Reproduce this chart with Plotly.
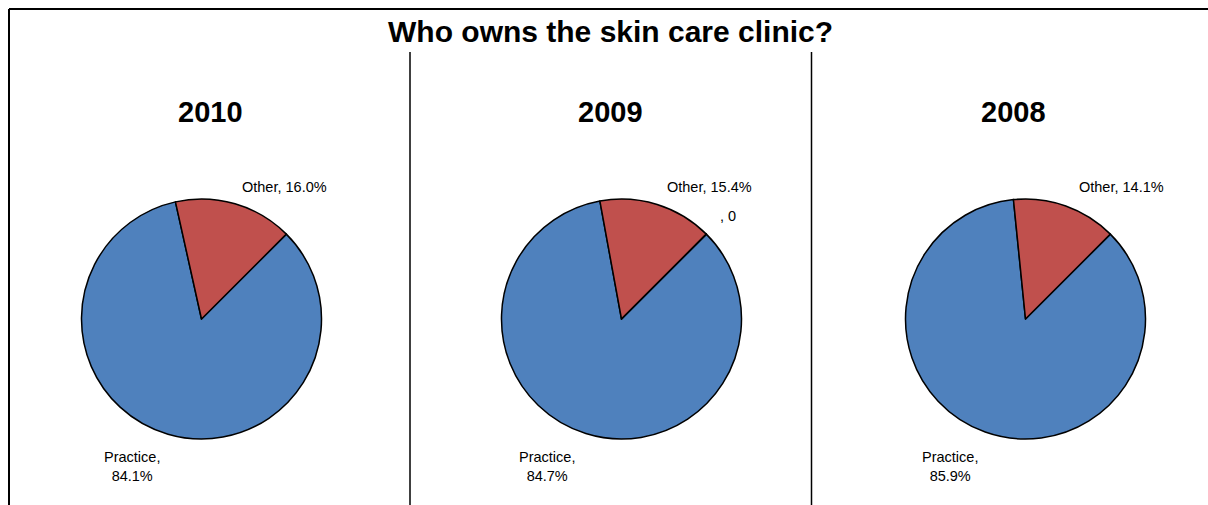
import plotly.graph_objects as go

W, H = 1208, 505

title_text = "Who owns the skin care clinic?"
years = ["2010", "2009", "2008"]
slice_names = ["Practice", "Other", ""]
practice = [84.1, 84.7, 85.9]
other = [16.0, 15.4, 14.1]
blank = [None, 0, None]   # 2009 has an extra empty (zero) category

colors = ["#4F81BD", "#C0504D", "#9BBB59"]
FONT = "Arial, 'Liberation Sans', sans-serif"

# layout (pixel) positions
pie_cx = [201.5, 621.5, 1025.5]
pie_cy = 319
pie_r = 120
year_x = [210, 610, 1013]
year_y = 112.5
other_lbl = [(284, 187), (709, 186.5), (1121.5, 187.3)]
prac_lbl = [(132, 466.5), (547, 466.5), (950, 466.5)]
zero_lbl = (727.5, 216.5)


def px(x):
    return x / W


def py(y):
    return 1 - y / H


fig = go.Figure()
annotations = []
for i, yr in enumerate(years):
    vals = [practice[i], other[i]]
    names = slice_names[:2]
    if blank[i] is not None:
        vals.append(blank[i])
        names = slice_names[:3]
    fig.add_trace(go.Pie(
        values=vals,
        labels=names,
        sort=False,
        direction="clockwise",
        rotation=45,
        textinfo="none",
        hoverinfo="label+percent",
        marker=dict(colors=colors[:len(vals)], line=dict(color="black", width=1.5)),
        domain=dict(x=[px(pie_cx[i] - pie_r), px(pie_cx[i] + pie_r)],
                    y=[py(pie_cy + pie_r), py(pie_cy - pie_r)]),
        showlegend=False,
    ))
    annotations.append(dict(text=f"<b>{yr}</b>", x=px(year_x[i]), y=py(year_y),
                            font=dict(size=29, family=FONT, color="black")))
    annotations.append(dict(text=f"{slice_names[1]}, {other[i]:.1f}%",
                            x=px(other_lbl[i][0]), y=py(other_lbl[i][1]),
                            font=dict(size=14.5, family=FONT, color="black")))
    annotations.append(dict(text=f"{slice_names[0]},<br>{practice[i]:.1f}%",
                            x=px(prac_lbl[i][0]), y=py(prac_lbl[i][1]),
                            font=dict(size=14.5, family=FONT, color="black")))
    if blank[i] is not None:
        annotations.append(dict(text=f"{slice_names[2]}, {blank[i]}",
                                x=px(zero_lbl[0]), y=py(zero_lbl[1]),
                                font=dict(size=14.5, family=FONT, color="black")))

annotations.append(dict(text=f"<b>{title_text}</b>", x=px(610), y=py(31.5),
                        font=dict(size=30, family=FONT, color="black")))

for a in annotations:
    a.update(xref="paper", yref="paper", showarrow=False,
             xanchor="center", yanchor="middle")

shapes = [
    # outer frame (left and top edges visible)
    dict(type="line", x0=px(9), x1=px(W + 5), y0=py(9), y1=py(9),
         line=dict(color="black", width=2)),
    dict(type="line", x0=px(9), x1=px(9), y0=py(9), y1=py(H + 5),
         line=dict(color="black", width=2)),
    # panel dividers
    dict(type="line", x0=px(410), x1=px(410), y0=py(52), y1=py(H + 5),
         line=dict(color="black", width=1.5)),
    dict(type="line", x0=px(811.5), x1=px(811.5), y0=py(52), y1=py(H + 5),
         line=dict(color="black", width=1.5)),
]
for s in shapes:
    s.update(xref="paper", yref="paper")

fig.update_layout(
    width=W, height=H,
    margin=dict(l=0, r=0, t=0, b=0),
    paper_bgcolor="white", plot_bgcolor="white",
    annotations=annotations,
    shapes=shapes,
    font=dict(family=FONT),
)

fig.write_html("out.html")
